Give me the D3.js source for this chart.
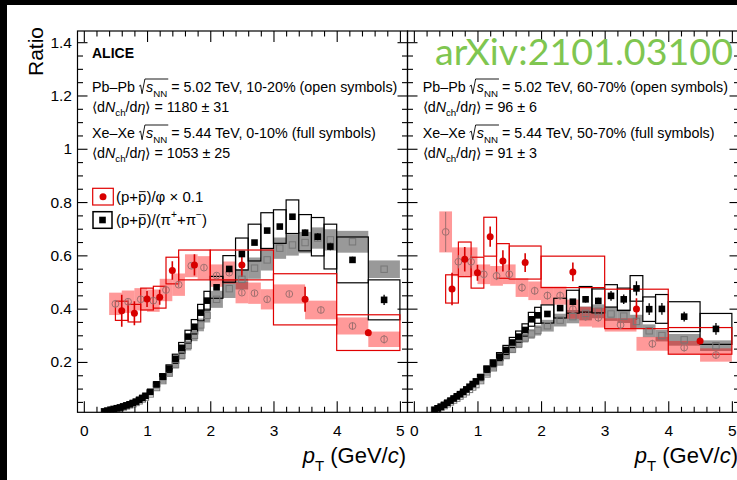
<!DOCTYPE html>
<html>
<head>
<meta charset="utf-8">
<script src="https://cdn.jsdelivr.net/npm/d3@7"></script>
<style>
  html, body { margin: 0; padding: 0; background: #fff; }
  svg { display: block; font-family: "Liberation Sans", Arial, Helvetica, sans-serif; }
  svg text { white-space: pre; }
</style>
</head>
<body>
<svg id="chart" width="737" height="480"></svg>
<script>
// ---------------- data ----------------
// (p+pbar)/(pi+ + pi-) bin edges (GeV/c)
const ppiEdges = [0.30,0.35,0.40,0.45,0.50,0.55,0.60,0.65,0.70,0.75,0.80,0.85,0.90,0.95,1.00,
  1.1,1.2,1.3,1.4,1.5,1.6,1.7,1.8,1.9,2.0,2.2,2.4,2.6,2.8,3.0,3.2,3.4,3.6,3.8,4.0,4.5,5.0];
// (p+pbar)/phi bin edges (GeV/c)
const pphiEdgesPb = [0.4,0.6,0.8,1.0,1.2,1.4,1.6,1.8,2.0,2.2,2.4,2.6,2.8,3.0,3.5,4.0,4.5,5.0];
const pphiEdgesXe = [0.5,0.7,0.9,1.1,1.3,1.5,2.0,3.0,4.0,5.0];

// Left: Xe-Xe 0-10% (full) and Pb-Pb 10-20% (open)
const pphiXe010     = [0.392,0.383,0.436,0.443,0.543,0.564,0.564,0.435,0.310];
const pphiXe010Stat = [0.060,0.045,0.030,0.028,0.035,0.040,0.045,0.047,0.012];
const pphiXe010Sys  = [0.036,0.033,0.041,0.041,0.050,0.056,0.056,0.096,0.067];

const pphiPb1020     = [0.418,0.426,0.435,0.430,0.470,0.490,0.561,0.554,0.524,0.535,0.460,0.458,0.435,0.455,0.395,0.335,0.285];
const pphiPb1020Stat = [0.012,0.010,0.010,0.010,0.010,0.010,0.010,0.010,0.010,0.010,0.010,0.010,0.010,0.010,0.012,0.014,0.016];
const pphiPb1020Sys  = [0.042,0.042,0.042,0.042,0.042,0.042,0.043,0.043,0.042,0.042,0.040,0.040,0.038,0.036,0.035,0.032,0.029];

const ppiXe010 = [0.014,0.017,0.020,0.023,0.026,0.029,0.033,0.037,0.041,0.046,0.051,0.058,0.065,0.073,
  0.088,0.116,0.145,0.175,0.212,0.253,0.295,0.332,0.385,0.430,
  0.480,0.549,0.605,0.648,0.693,0.708,0.745,0.685,0.670,0.633,
  0.583,0.433];
const ppiXe010Stat = [0.002,0.002,0.002,0.002,0.002,0.002,0.002,0.002,0.002,0.002,0.002,0.002,0.002,0.002,
  0.003,0.003,0.003,0.003,0.003,0.003,0.003,0.003,0.003,0.003,
  0.004,0.005,0.006,0.007,0.008,0.009,0.010,0.012,0.013,0.014,
  0.012,0.019];
const ppiXe010Sys = [0.001,0.001,0.002,0.002,0.002,0.002,0.003,0.003,0.003,0.004,0.004,0.005,0.005,0.006,
  0.007,0.009,0.011,0.014,0.017,0.020,0.024,0.027,0.031,0.035,
  0.041,0.050,0.060,0.069,0.067,0.063,0.063,0.068,0.072,0.084,
  0.086,0.075];

const ppiPb1020 = [0.013,0.016,0.019,0.022,0.025,0.028,0.031,0.035,0.039,0.043,0.048,0.054,0.061,0.068,
  0.080,0.104,0.130,0.158,0.190,0.225,0.262,0.300,0.339,0.375,
  0.435,0.475,0.510,0.552,0.583,0.627,0.639,0.648,0.665,0.658,
  0.651,0.548];
const ppiPb1020Sys = [0.001,0.001,0.001,0.001,0.002,0.002,0.002,0.002,0.002,0.003,0.003,0.003,0.004,0.004,
  0.006,0.008,0.010,0.012,0.014,0.016,0.019,0.022,0.024,0.027,
  0.032,0.035,0.038,0.040,0.040,0.040,0.040,0.040,0.040,0.040,
  0.041,0.033];

// Right: Xe-Xe 50-70% (full) and Pb-Pb 60-70% (open)
const pphiXe5070     = [0.474,0.585,0.535,0.670,0.579,0.573,0.538,0.399,0.279];
const pphiXe5070Stat = [0.061,0.046,0.030,0.038,0.040,0.035,0.035,0.040,0.010];
const pphiXe5070Sys  = [0.053,0.065,0.058,0.073,0.065,0.062,0.059,0.074,0.050];

const pphiPb6070     = [0.688,0.576,0.576,0.529,0.523,0.529,0.479,0.467,0.449,0.449,0.398,0.370,0.366,0.339,0.268,0.254,0.226];
const pphiPb6070Stat = [0.075,0.025,0.025,0.018,0.016,0.016,0.016,0.015,0.015,0.015,0.015,0.015,0.015,0.015,0.015,0.015,0.015];
const pphiPb6070Sys  = [0.077,0.054,0.054,0.037,0.037,0.037,0.035,0.035,0.034,0.034,0.036,0.037,0.037,0.025,0.026,0.025,0.025];

const ppiXe5070 = [0.020,0.026,0.032,0.039,0.047,0.055,0.063,0.071,0.079,0.088,0.097,0.107,0.117,0.127,
  0.143,0.173,0.195,0.220,0.245,0.273,0.295,0.320,0.360,0.375,
  0.380,0.402,0.426,0.435,0.429,0.448,0.435,0.476,0.398,0.399,
  0.370,0.324];
const ppiXe5070Stat = [0.003,0.003,0.003,0.003,0.003,0.003,0.003,0.003,0.003,0.003,0.003,0.003,0.003,0.003,
  0.004,0.004,0.004,0.004,0.004,0.005,0.005,0.005,0.006,0.006,
  0.008,0.009,0.010,0.012,0.012,0.018,0.018,0.027,0.022,0.022,
  0.018,0.022];
const ppiXe5070Sys = [0.001,0.002,0.002,0.002,0.003,0.003,0.004,0.004,0.005,0.005,0.006,0.006,0.007,0.008,
  0.010,0.012,0.013,0.015,0.017,0.019,0.021,0.023,0.026,0.030,
  0.034,0.037,0.043,0.048,0.045,0.042,0.042,0.048,0.046,0.054,
  0.056,0.058];

const ppiPb6070 = [0.019,0.024,0.030,0.036,0.043,0.050,0.057,0.064,0.072,0.080,0.088,0.097,0.106,0.115,
  0.130,0.155,0.178,0.200,0.224,0.248,0.268,0.290,0.305,0.318,
  0.336,0.357,0.370,0.382,0.390,0.380,0.372,0.352,0.317,0.299,
  0.283,0.261];
const ppiPb6070Sys = [0.001,0.001,0.002,0.002,0.003,0.003,0.003,0.004,0.004,0.005,0.005,0.006,0.006,0.007,
  0.008,0.009,0.011,0.012,0.013,0.015,0.016,0.017,0.018,0.019,
  0.022,0.024,0.025,0.026,0.026,0.026,0.026,0.025,0.024,0.022,
  0.022,0.020];

const xTickValues = [0,1,2,3,4,5];
const yTickValues = [0.2,0.4,0.6,0.8,1.0,1.2,1.4];

// ---------------- layout ----------------
const svg = d3.select("#chart");
const W = 737, H = 480;
svg.append("rect").attr("width", W).attr("height", H).attr("fill", "#fff");
svg.append("rect").attr("x", 0).attr("y", 0).attr("width", W).attr("height", 5).attr("fill", "#000");
svg.append("rect").attr("x", 0).attr("y", 0).attr("width", 7).attr("height", H).attr("fill", "#000");

const FRAME_TOP = 31, FRAME_BOT = 412.3;
const y = d3.scaleLinear().domain([0.011, 1.442]).range([FRAME_BOT, FRAME_TOP]);

const RED = "#d80000", PINK = "rgba(255,0,0,0.4)", GREYBAND = "rgba(0,0,0,0.4)";
const OPENCIRC = "#a07070", OPENSQ = "#777777";

function rows(edges, vals, stat, sys) {
  return vals.map((v, i) => ({
    lo: edges[i], hi: edges[i + 1], c: (edges[i] + edges[i + 1]) / 2,
    v, stat: stat ? stat[i] : 0, sys: sys ? sys[i] : 0
  }));
}

// Text made of pieces: plain, italic, sub/superscript, overbar, radical
function rich(parent, x, yb, segs, size, anchor) {
  const g = parent.append("g");
  let cx = 0, radStart = 0;
  segs.forEach(s => {
    if (s.rad === "start") {
      radStart = cx;
      cx += size * 0.5;
      return;
    }
    if (s.rad === "end") {
      g.append("path")
        .attr("d", `M${radStart},${-size * 0.42} L${radStart + size * 0.12},${-size * 0.5} L${radStart + size * 0.22},${size * 0.1} L${radStart + size * 0.42},${-size * 0.93} L${cx + 1},${-size * 0.93}`)
        .attr("fill", "none").attr("stroke", "#000").attr("stroke-width", 0.9);
      return;
    }
    const small = s.sub || s.sup;
    const fs = small ? size * 0.68 : size;
    const dy = s.sub ? size * (s.low || 0.3) : s.sup ? -size * 0.42 : 0;
    const t = g.append("text").attr("x", cx).attr("y", dy).attr("font-size", fs).text(s.t);
    if (s.it) t.attr("font-style", "italic");
    if (s.b) t.attr("font-weight", "bold");
    const w = t.node().getComputedTextLength();
    if (s.bar) {
      g.append("line").attr("x1", cx + w * 0.12).attr("x2", cx + w * 0.9)
        .attr("y1", dy - fs * 0.66).attr("y2", dy - fs * 0.66)
        .attr("stroke", "#000").attr("stroke-width", 0.9);
    }
    cx += w;
  });
  const x0 = anchor === "end" ? x - cx : x;
  g.attr("transform", `translate(${x0},${yb})`);
  return cx;
}

function drawPanel(cfg, idx) {
  const x = cfg.x;
  const [x0, x1] = x.range();
  const clipId = "clip" + idx;
  svg.append("clipPath").attr("id", clipId).append("rect")
    .attr("x", x0).attr("y", FRAME_TOP).attr("width", x1 - x0).attr("height", FRAME_BOT - FRAME_TOP);
  const g = svg.append("g").attr("clip-path", `url(#${clipId})`);

  const ppiPb = rows(ppiEdges, cfg.ppiPb, null, cfg.ppiPbSys);
  const ppiXe = rows(ppiEdges, cfg.ppiXe, cfg.ppiXeStat, cfg.ppiXeSys);
  const phiPb = rows(pphiEdgesPb, cfg.phiPb, cfg.phiPbStat, cfg.phiPbSys);
  const phiXe = rows(pphiEdgesXe, cfg.phiXe, cfg.phiXeStat, cfg.phiXeSys);

  const sysRect = (sel) => sel
    .attr("x", d => x(d.lo)).attr("width", d => x(d.hi) - x(d.lo))
    .attr("y", d => y(d.v + d.sys)).attr("height", d => y(d.v - d.sys) - y(d.v + d.sys));

  // filled systematic bands (Pb-Pb)
  g.append("g").selectAll("rect").data(ppiPb).join("rect").call(sysRect).attr("fill", GREYBAND);
  g.append("g").selectAll("rect").data(phiPb).join("rect").call(sysRect).attr("fill", PINK);
  // open systematic boxes (Xe-Xe)
  g.append("g").selectAll("rect").data(ppiXe).join("rect").call(sysRect)
    .attr("fill", "none").attr("stroke", "#000").attr("stroke-width", 1.2);
  g.append("g").selectAll("rect").data(phiXe).join("rect").call(sysRect)
    .attr("fill", "none").attr("stroke", "#e00000").attr("stroke-width", 1.2);

  // statistical error bars
  const errBar = (sel) => sel
    .attr("x1", d => x(d.c)).attr("x2", d => x(d.c))
    .attr("y1", d => y(d.v + d.stat)).attr("y2", d => y(d.v - d.stat));
  g.append("g").selectAll("line").data(phiPb).join("line").call(errBar)
    .attr("stroke", OPENCIRC).attr("stroke-width", 1);
  g.append("g").selectAll("line").data(ppiXe).join("line").call(errBar)
    .attr("stroke", "#000").attr("stroke-width", 1.3);
  g.append("g").selectAll("line").data(phiXe).join("line").call(errBar)
    .attr("stroke", RED).attr("stroke-width", 1.6);

  // markers
  const sq = 6.4;
  g.append("g").selectAll("rect").data(ppiPb).join("rect")
    .attr("x", d => x(d.c) - sq / 2).attr("y", d => y(d.v) - sq / 2)
    .attr("width", sq).attr("height", sq)
    .attr("fill", "none").attr("stroke", OPENSQ).attr("stroke-width", 1);
  g.append("g").selectAll("circle").data(phiPb).join("circle")
    .attr("cx", d => x(d.c)).attr("cy", d => y(d.v)).attr("r", 3.4)
    .attr("fill", "none").attr("stroke", OPENCIRC).attr("stroke-width", 1);
  const bsq = 6.6;
  g.append("g").selectAll("rect").data(ppiXe).join("rect")
    .attr("x", d => x(d.c) - bsq / 2).attr("y", d => y(d.v) - bsq / 2)
    .attr("width", bsq).attr("height", bsq).attr("fill", "#000");
  g.append("g").selectAll("circle").data(phiXe).join("circle")
    .attr("cx", d => x(d.c)).attr("cy", d => y(d.v)).attr("r", 3.5).attr("fill", RED);

  // frame
  svg.append("rect").attr("x", x0).attr("y", FRAME_TOP).attr("width", x1 - x0)
    .attr("height", FRAME_BOT - FRAME_TOP).attr("fill", "none").attr("stroke", "#000").attr("stroke-width", 1.2);

  // axes
  const xMinor = d3.range(0, 25.5, 1).map(i => i * 0.2).filter(v => Math.abs(v - Math.round(v)) > 1e-6);
  const yMinor = d3.range(1, 29).map(i => i * 0.05).filter(v => Math.abs(v * 5 - Math.round(v * 5)) > 1e-6);
  const clean = s => s.select(".domain").remove();

  const bottom = svg.append("g").attr("transform", `translate(0,${FRAME_BOT})`)
    .call(d3.axisBottom(x).tickValues(xTickValues).tickSize(-11).tickPadding(13).tickFormat(d3.format("d")))
    .call(clean);
  bottom.selectAll("text").attr("font-size", 15.5).attr("fill", "#000").attr("font-family", "Liberation Sans, Arial, sans-serif");
  bottom.selectAll("line").attr("stroke-width", 1.1);
  svg.append("g").attr("transform", `translate(0,${FRAME_BOT})`)
    .call(d3.axisBottom(x).tickValues(xMinor).tickSize(-5.5).tickFormat(""))
    .call(clean).selectAll("line").attr("stroke-width", 1.1);
  svg.append("g").attr("transform", `translate(0,${FRAME_TOP})`)
    .call(d3.axisTop(x).tickValues(xTickValues).tickSize(-11).tickFormat(""))
    .call(clean).selectAll("line").attr("stroke-width", 1.1);
  svg.append("g").attr("transform", `translate(0,${FRAME_TOP})`)
    .call(d3.axisTop(x).tickValues(xMinor).tickSize(-5.5).tickFormat(""))
    .call(clean).selectAll("line").attr("stroke-width", 1.1);

  const left = svg.append("g").attr("transform", `translate(${x0},0)`)
    .call(d3.axisLeft(y).tickValues(yTickValues).tickSize(-10).tickPadding(5.5)
      .tickFormat(cfg.yLabels ? (d => (Math.abs(d - 1) < 1e-9 ? "1" : d3.format(".1f")(d))) : ""))
    .call(clean);
  left.selectAll("text").attr("font-size", 15.5).attr("fill", "#000").attr("font-family", "Liberation Sans, Arial, sans-serif");
  left.selectAll("line").attr("stroke-width", 1.1);
  svg.append("g").attr("transform", `translate(${x0},0)`)
    .call(d3.axisLeft(y).tickValues(yMinor).tickSize(-5.5).tickFormat(""))
    .call(clean).selectAll("line").attr("stroke-width", 1.1);
  svg.append("g").attr("transform", `translate(${x1},0)`)
    .call(d3.axisRight(y).tickValues(yTickValues).tickSize(-10).tickFormat(""))
    .call(clean).selectAll("line").attr("stroke-width", 1.1);
  svg.append("g").attr("transform", `translate(${x1},0)`)
    .call(d3.axisRight(y).tickValues(yMinor).tickSize(-5.5).tickFormat(""))
    .call(clean).selectAll("line").attr("stroke-width", 1.1);

  // x-axis title
  rich(svg, x1 - 1.5, 463, [
    { t: "p", it: true }, { t: "T", sub: true, low: 0.38 }, { t: " (GeV/" }, { t: "c", it: true }, { t: ")" }
  ], 22, "end");

  // system / centrality text
  const tx = x0 + cfg.textDx, ts = 14.3;
  rich(svg, tx, 92.3, [
    { t: "Pb\u2013Pb " }, { rad: "start" }, { t: "s", it: true }, { t: "NN", sub: true }, { rad: "end" },
    { t: " = 5.02 TeV, " + cfg.pbCent + " (open symbols)" }
  ], ts);
  rich(svg, tx, 112, [
    { t: "\u27E8d" }, { t: "N", it: true }, { t: "ch", sub: true }, { t: "/d" }, { t: "\u03B7", it: true },
    { t: "\u27E9 = " + cfg.pbMult }
  ], ts);
  rich(svg, tx, 138.3, [
    { t: "Xe\u2013Xe " }, { rad: "start" }, { t: "s", it: true }, { t: "NN", sub: true }, { rad: "end" },
    { t: " = 5.44 TeV, " + cfg.xeCent + " (full symbols)" }
  ], ts);
  rich(svg, tx, 157.5, [
    { t: "\u27E8d" }, { t: "N", it: true }, { t: "ch", sub: true }, { t: "/d" }, { t: "\u03B7", it: true },
    { t: "\u27E9 = " + cfg.xeMult }
  ], ts);
}

const panels = [
  {
    x: d3.scaleLinear().domain([-0.1, 5.12]).range([77.5, 407.5]),
    yLabels: true, textDx: 14.5,
    pbCent: "10-20%", xeCent: "0-10%", pbMult: "1180 \u00B1 31", xeMult: "1053 \u00B1 25",
    ppiPb: ppiPb1020, ppiPbSys: ppiPb1020Sys,
    ppiXe: ppiXe010, ppiXeStat: ppiXe010Stat, ppiXeSys: ppiXe010Sys,
    phiPb: pphiPb1020, phiPbStat: pphiPb1020Stat, phiPbSys: pphiPb1020Sys,
    phiXe: pphiXe010, phiXeStat: pphiXe010Stat, phiXeSys: pphiXe010Sys
  },
  {
    x: d3.scaleLinear().domain([-0.1, 5.12]).range([407.5, 739.5]),
    yLabels: false, textDx: 15.2,
    pbCent: "60-70%", xeCent: "50-70%", pbMult: "96 \u00B1 6", xeMult: "91 \u00B1 3",
    ppiPb: ppiPb6070, ppiPbSys: ppiPb6070Sys,
    ppiXe: ppiXe5070, ppiXeStat: ppiXe5070Stat, ppiXeSys: ppiXe5070Sys,
    phiPb: pphiPb6070, phiPbStat: pphiPb6070Stat, phiPbSys: pphiPb6070Sys,
    phiXe: pphiXe5070, phiXeStat: pphiXe5070Stat, phiXeSys: pphiXe5070Sys
  }
];
panels.forEach(drawPanel);

// y-axis title
svg.append("text").attr("transform", "translate(42.5,27) rotate(-90)")
  .attr("text-anchor", "end").attr("font-size", 21).attr("fill", "#000").text("Ratio");

// experiment label
svg.append("text").attr("x", 92).attr("y", 58).attr("font-size", 14)
  .attr("font-weight", "bold").attr("fill", "#000").text("ALICE");

// legend
const lg = svg.append("g");
lg.append("rect").attr("x", 92.7).attr("y", 188.3).attr("width", 20.6).attr("height", 16.7)
  .attr("fill", "none").attr("stroke", "#e00000").attr("stroke-width", 1.2);
lg.append("circle").attr("cx", 103).attr("cy", 196.7).attr("r", 3.5).attr("fill", RED);
rich(lg, 116, 201.5, [{ t: "(p+" }, { t: "p", bar: true }, { t: ")/\u03C6 \u00D7 0.1" }], 15);
lg.append("rect").attr("x", 93).attr("y", 211.7).attr("width", 19).attr("height", 16.6)
  .attr("fill", "none").attr("stroke", "#000").attr("stroke-width", 1.5);
lg.append("rect").attr("x", 99.2).attr("y", 216.7).attr("width", 6.6).attr("height", 6.6).attr("fill", "#000");
rich(lg, 116, 224.5, [{ t: "(p+" }, { t: "p", bar: true }, { t: ")/(\u03C0" }, { t: "+", sup: true },
  { t: "+\u03C0" }, { t: "\u2212", sup: true }, { t: ")" }], 15);

// watermark
svg.append("text").attr("x", 435).attr("y", 65).attr("font-family", "Lato, 'Open Sans', sans-serif")
  .attr("font-size", 36).attr("textLength", 298).attr("lengthAdjust", "spacingAndGlyphs")
  .attr("fill", "#7fc650").text("arXiv:2101.03100");
</script>
</body>
</html>
